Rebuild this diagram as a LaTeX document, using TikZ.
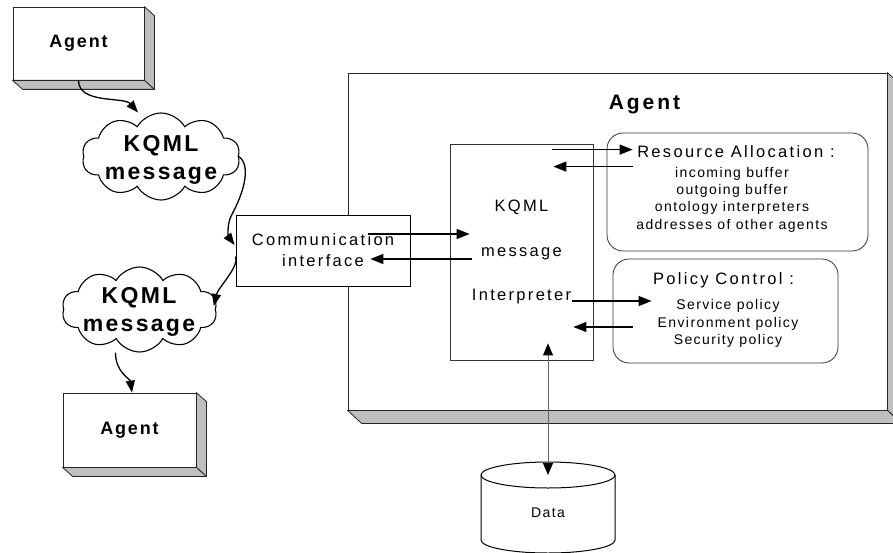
\documentclass[tikz,border=0pt]{standalone}
\usepackage{fontspec}
\setmainfont{Liberation Sans}
\newfontfamily\wideA[LetterSpace=14]{Liberation Sans}
\newfontfamily\wideB[LetterSpace=10]{Liberation Sans}
\usetikzlibrary{shapes.symbols,arrows.meta,calc}

\begin{document}
\begin{tikzpicture}[x=1pt, y=-1pt,
		slab/.style={draw=black!85, fill=white, line width=0.8pt, inner sep=0pt},
		face/.style={draw=black!85, fill=black!25, line width=0.8pt, line join=round},
		plainbox/.style={draw=black!80, fill=white, line width=0.8pt, inner sep=0pt},
		roundbox/.style={draw=black!80, line width=0.8pt, rounded corners=16pt, inner sep=0pt},
		msgcloud/.style={cloud, cloud puffs=10, cloud puff arc=120, cloud ignores aspect, draw, line width=1.1pt, inner sep=0pt},
		agentfont/.style={font=\wideB\bfseries\fontsize{18}{22}\selectfont},
		titlefont/.style={font=\wideA\bfseries\fontsize{21}{25}\selectfont},
		cloudfont/.style={font=\wideB\bfseries\fontsize{23}{28}\selectfont, align=center},
		midfont/.style={font=\wideA\fontsize{16.5}{21}\selectfont},
		smallfont/.style={font=\wideB\fontsize{14}{17.3}\selectfont, align=center},
		flow/.style={-{Triangle[length=13pt,width=10pt]}, line width=1.4pt},
		wavy/.style={-{Triangle[length=12pt,width=9pt]}, line width=1.3pt},
		dbflow/.style={{Triangle[length=12pt,width=10pt,color=black]}-{Triangle[length=12pt,width=10pt,color=black]}, draw=black!60, line width=1pt},
		dbline/.style={line width=1pt}
	]
		\useasboundingbox (0,0) rectangle (893,553);

		% the two outside agents
		\node [slab, agentfont, minimum width=131pt, minimum height=73pt] (agentA) at (78.5,43.5) {Agent};
		\draw [face] (agentA.north east) -- ++(10,9) -- ([shift={(10,9)}]agentA.south east) -- (agentA.south east) -- cycle;
		\draw [face] (agentA.south west) -- ++(10,9) -- ([shift={(10,9)}]agentA.south east) -- (agentA.south east) -- cycle;

		\node [slab, agentfont, minimum width=133pt, minimum height=74pt] (agentB) at (129.5,430) {Agent};
		\draw [face] (agentB.north east) -- ++(10,9) -- ([shift={(10,9)}]agentB.south east) -- (agentB.south east) -- cycle;
		\draw [face] (agentB.south west) -- ++(10,9) -- ([shift={(10,9)}]agentB.south east) -- (agentB.south east) -- cycle;

		% messages
		\node [msgcloud, minimum width=158pt, minimum height=87pt] (cloudA) at (161,156.5) {};
		\node [cloudfont] (cloudAtext) at (161,160) {KQML\\message};
		\node [msgcloud, minimum width=155pt, minimum height=85pt] (cloudB) at (139.5,309.5) {};
		\node [cloudfont] (cloudBtext) at (139,311.5) {KQML\\message};

		% the big agent
		\node [slab, minimum width=539pt, minimum height=337pt] (agentC) at (617.5,241.5) {};
		\draw [face] (agentC.north east) -- ++(14,13) -- ([shift={(14,13)}]agentC.south east) -- (agentC.south east) -- cycle;
		\draw [face] (agentC.south west) -- ++(14,13) -- ([shift={(14,13)}]agentC.south east) -- (agentC.south east) -- cycle;
		\node [titlefont, anchor=base] (agentCtitle) at (644.5,110) {Agent};

		\node [plainbox, draw=black, midfont, align=center, minimum width=174pt, minimum height=71pt] (comm) at (323,250.5) {Communication\\interface};
		\node [plainbox, font=\wideA\fontsize{16.5}{44.5}\selectfont, align=center, minimum width=143pt, minimum height=216pt] (interp) at (521.5,252) {KQML\\message\\Interpreter};

		\node [roundbox, minimum width=261pt, minimum height=118pt] (res) at (737.5,192) {};
		\node [midfont, anchor=base] (resTitle) at (736,158) {Resource Allocation :};
		\node [smallfont] (resList) at (732,199.5) {incoming buffer\\outgoing buffer\\ontology interpreters\\addresses of other agents};

		\node [roundbox, minimum width=225pt, minimum height=104pt] (pol) at (725.5,311) {};
		\node [midfont, anchor=base] (polTitle) at (723.5,284) {Policy Control :};
		\node [smallfont] (polList) at (728,323.5) {Service policy\\Environment policy\\Security policy};

		% data store
		\node [font=\wideB\fontsize{14}{17}\selectfont] (data) at (548,513) {Data};
		\coordinate (dataTop) at (548,475);
		\draw [dbline] (dataTop) ++(-67,0) -- ++(0,65) arc [start angle=180, end angle=360, x radius=67pt, y radius=13pt] -- ++(0,-65);
		\draw [dbline] (dataTop) ellipse [x radius=67pt, y radius=13pt];

		% connectors
		\draw [wavy] (agentA.south) .. controls +(0,24) and +(-14,-16) .. ([shift={(-23,0)}]cloudA.north);
		\draw [wavy] (cloudA.east) .. controls +(14,10) and +(10,-18) .. ([shift={(-4,-35.5)}]comm.west) .. controls +(-5,9) and +(-6,-8) .. ([shift={(-1,-5.5)}]comm.west);
		\draw [wavy] ([shift={(0,6)}]comm.west) .. controls +(4,10) and +(4,-18) .. ([shift={(-2,-3.5)}]cloudB.east);
		\draw [wavy] ([shift={(-24,0)}]cloudB.south) .. controls +(0,20) and +(-2,-14) .. ([shift={(2.5,0)}]agentB.north);

		\draw [flow] ([shift={(-42,-16.5)}]comm.east) -- ([shift={(20,-18)}]interp.west);
		\draw [flow] ([shift={(22,7)}]interp.west) -- ([shift={(-40,8.5)}]comm.east);
		\draw [flow] ([shift={(-41,6)}]interp.north east) -- ([shift={(26,17)}]res.north west);
		\draw [flow] ([shift={(26,34)}]res.north west) -- ([shift={(-40,23)}]interp.north east);
		\draw [flow] ([shift={(-21,49)}]interp.east) -- ([shift={(39,-10)}]pol.west);
		\draw [flow] ([shift={(20,16)}]pol.west) -- ([shift={(-20,75)}]interp.east);
		\draw [dbflow] (dataTop) -- ($(dataTop |- interp.south)+(0,-17)$);
\end{tikzpicture}
\end{document}
